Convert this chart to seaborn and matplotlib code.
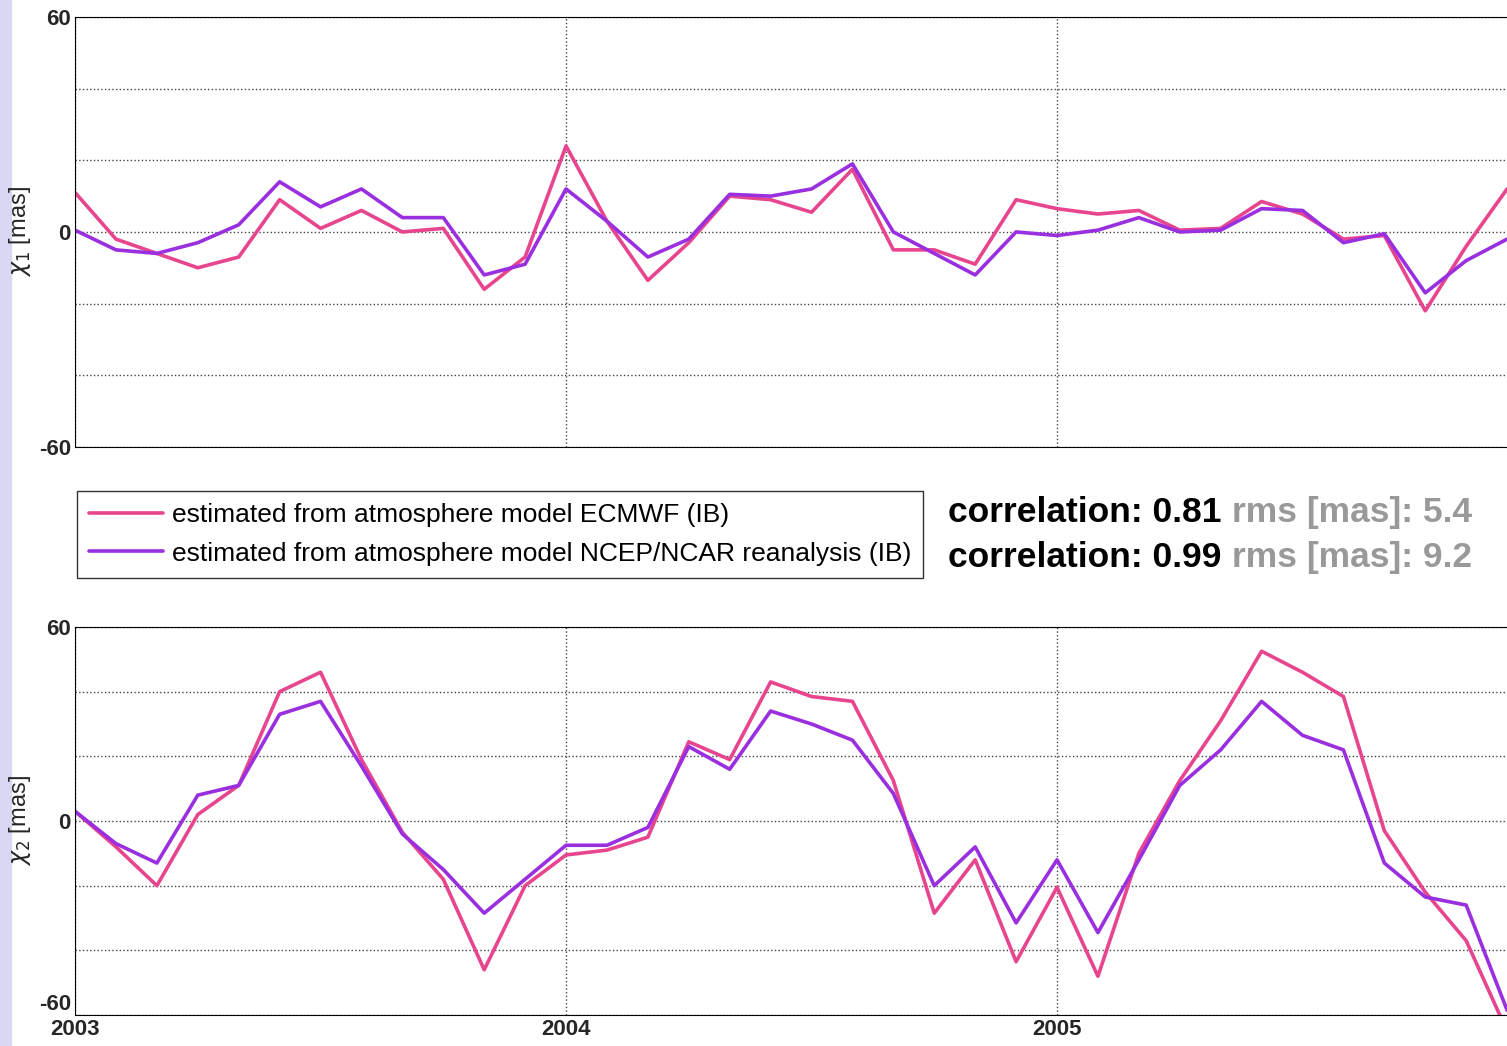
import numpy as np
import pandas as pd
import seaborn as sns
import matplotlib
matplotlib.use('Agg')
from matplotlib import pyplot as plt
from matplotlib.patches import Rectangle

# monthly values from Jan 2003
chi1_ecmwf = [11, -2, -6, -10, -7, 9, 1, 6, 0, 1, -16, -7, 24, 3, -13.5, -3, 10, 9, 5.5, 17.5,
              -5, -5, -9, 9, 6.5, 5, 6, 0.5, 1, 8.5, 5, -2, -1, -22, -4, 12]
chi1_ncep = [0.5, -5, -6, -3, 2, 14, 7, 12, 4, 4, -12, -9, 12, 3, -7, -2, 10.5, 10, 12, 19,
             0, -6, -12, 0, -1, 0.5, 4, 0, 0.5, 6.5, 6, -3, -0.5, -17, -8, -2]
chi2_ecmwf = [3, -8, -20, 2, 11, 40, 46, 19, -3.5, -18, -46, -20, -10.5, -9, -5, 24.5, 19, 43, 38.5, 37,
              12.5, -28.5, -12, -43.5, -20.5, -48, -10, 12.5, 31, 52.5, 46, 38.5, -3, -22, -37, -65]
chi2_ncep = [3, -7, -13, 8, 11, 33, 37, 17, -4, -15, -28.5, -18, -7.5, -7.5, -2, 23, 16, 34, 30, 25,
             8.5, -20, -8, -31.5, -12, -34.5, -12, 11, 22, 37, 26.5, 22, -13, -23.5, -26, -58.5]
labels = ['estimated from atmosphere model ECMWF (IB)',
          'estimated from atmosphere model NCEP/NCAR reanalysis (IB)']
corr = ['0.81', '0.99']
rms = ['5.4', '9.2']

t = 2003 + np.arange(len(chi1_ecmwf)) / 12.0
pink = '#e8458f'
purple = '#9a2fe0'

sns.set_style('white')
plt.rcParams['font.family'] = ['Liberation Sans', 'DejaVu Sans']
fig = plt.figure(figsize=(15.07, 10.46), dpi=100)
fig.patches.append(Rectangle((0, 0), 0.007, 1, transform=fig.transFigure, color='#d8d8f4', zorder=-1))
ax1 = fig.add_axes([0.0498, 0.5727, 0.9502, 0.4111])
ax2 = fig.add_axes([0.0498, 0.0296, 0.9502, 0.371])

for ax, a, b, lab in [(ax1, chi1_ecmwf, chi1_ncep, r'$\chi_1$ [mas]'),
                      (ax2, chi2_ecmwf, chi2_ncep, r'$\chi_2$ [mas]')]:
    df = pd.DataFrame({'t': np.concatenate([t, t]), 'v': a + b,
                       's': [labels[0]] * len(t) + [labels[1]] * len(t)})
    sns.lineplot(data=df, x='t', y='v', hue='s', palette=[pink, purple], lw=2.6,
                 ax=ax, legend=(ax is ax1))
    ax.set_xlim(2003, 2003 + 1432 / 491)
    ax.set_ylim(-60, 60)
    ax.set_yticks([-60, -40, -20, 0, 20, 40, 60])
    ax.set_yticklabels(['-60', '', '', '0', '', '', '60'], fontsize=16, fontweight='bold')
    ax.set_xticks([2003, 2004, 2005])
    ax.grid(True, ls=':', color='#444444', lw=1)
    ax.set_ylabel(lab, fontsize=17, labelpad=4)
    ax.set_xlabel('')
    ax.tick_params(direction='in', length=5, color='black', pad=3)
    for s in ax.spines.values():
        s.set_color('black')
    ax.spines['right'].set_visible(False)

ax1.set_xticklabels([])
ax2.set_xticklabels(['2003', '2004', '2005'], fontsize=16, fontweight='bold')
ax2.get_yticklabels()[0].set_verticalalignment('bottom')

leg = ax1.legend(loc='upper left', bbox_to_anchor=(0.0014, -0.103), fontsize=19,
                 frameon=True, fancybox=False, edgecolor='black', handlelength=2.8,
                 handletextpad=0.35, borderpad=0.45, labelspacing=0.55, borderaxespad=0)
leg.get_frame().set_linewidth(1)
for txt in leg.get_texts():
    txt.set_color('black')

for i, y in enumerate([0.51, 0.467]):
    tx = fig.text(0.629, y, 'correlation: ' + corr[i], fontsize=25.5, fontweight='bold',
                  va='center', color='black')
    fig.canvas.draw()
    bb = tx.get_window_extent().transformed(fig.transFigure.inverted())
    fig.text(bb.x1 + 0.007, y, 'rms [mas]: ' + rms[i], fontsize=25.5, fontweight='bold',
             color='#999999', va='center')

fig.savefig('out.png', dpi=100)
